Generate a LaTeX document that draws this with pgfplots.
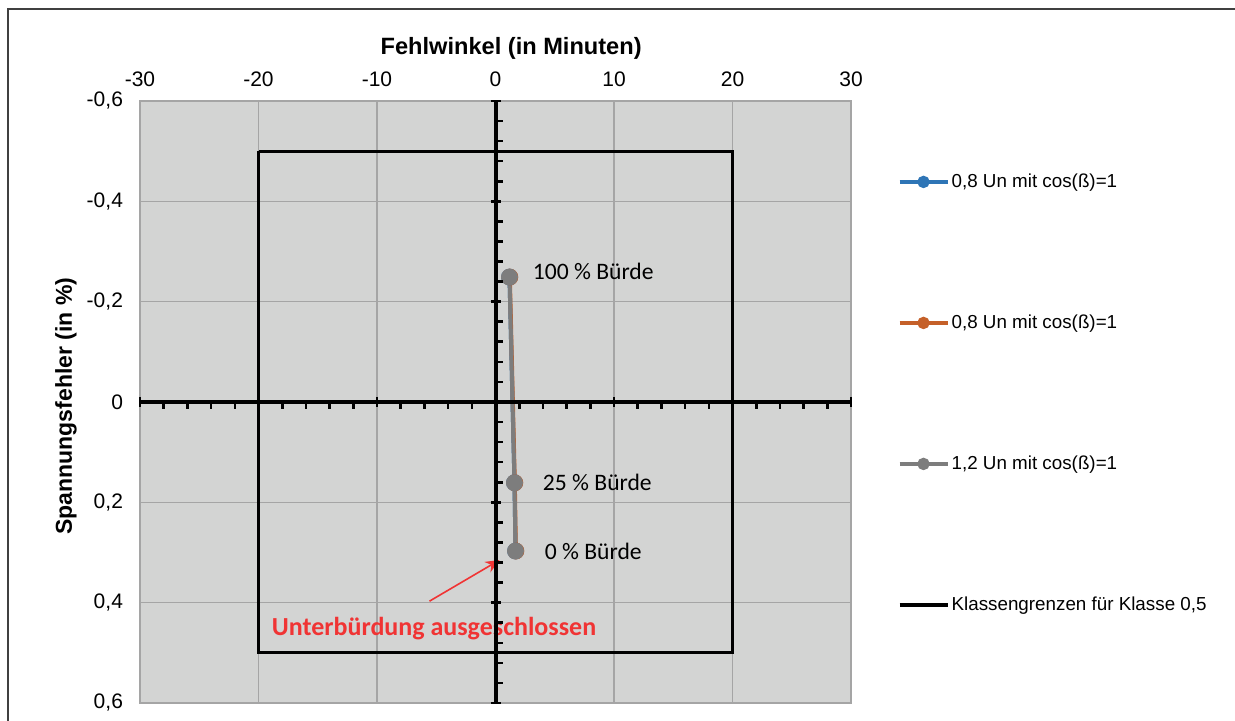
\documentclass[border=0pt]{standalone}
\usepackage{fontspec}
\setmainfont{Liberation Sans}
\newfontfamily\calibri{Carlito}
\usepackage{pgfplots}
\pgfplotsset{compat=1.18}
\usetikzlibrary{arrows.meta}

\definecolor{plotbg}{RGB}{211,212,211}
\definecolor{gridgray}{RGB}{165,165,165}
\definecolor{serblue}{RGB}{46,117,182}
\definecolor{serorange}{RGB}{197,96,41}
\definecolor{sergray}{RGB}{125,125,125}
\definecolor{annred}{RGB}{240,52,52}

\pgfplotsset{
  zeroaxes/.style={
    at={(70pt,9pt)}, anchor=south west,
    scale only axis, width=355.5pt, height=301pt,
    xmin=-30, xmax=30, ymin=-0.6, ymax=0.6,
    y dir=reverse,
    axis lines=middle,
    axis line style={black, line width=2pt, -},
    xtick={-30,-20,-10,0,10,20,30},
    ytick={-0.6,-0.4,-0.2,0,0.2,0.4,0.6},
    xticklabels={}, yticklabels={},
    tick style={black, line width=1.3pt},
  }
}

\begin{document}
\begin{tikzpicture}
\useasboundingbox (0,0) rectangle (617.5pt,360.5pt);
\draw[black!75, line width=0.6pt] (4pt,0) -- (4pt,356pt) -- (617.5pt,356pt);

% main axis: background, grid, labels, data
\begin{axis}[
  at={(70pt,9pt)}, anchor=south west,
  scale only axis, width=355.5pt, height=301pt,
  xmin=-30, xmax=30, ymin=-0.6, ymax=0.6,
  y dir=reverse,
  axis background/.style={fill=plotbg},
  axis line style={gridgray, line width=0.6pt},
  grid=major, grid style={gridgray, line width=0.6pt},
  major tick length=0pt,
  xtick={-30,-20,-10,0,10,20,30},
  ytick={-0.6,-0.4,-0.2,0,0.2,0.4,0.6},
  xticklabel pos=top,
  xticklabel style={font=\fontsize{10.5}{12}\selectfont, yshift=3.5pt},
  yticklabel style={font=\fontsize{10.5}{12}\selectfont, xshift=-5pt},
  /pgf/number format/.cd, use comma, fixed, precision=1, assume math mode=true,
  /pgfplots/.cd,
  xlabel={\bfseries Fehlwinkel (in Minuten)},
  xlabel style={at={(axis description cs:0.522,1.088)}, anchor=center, font=\fontsize{11.8}{13}\selectfont},
  ylabel={\bfseries Spannungsfehler (in \%)},
  ylabel style={at={(axis description cs:-0.104,0.493)}, anchor=center, rotate=0, font=\fontsize{11.5}{13}\selectfont},
  legend style={at={(axis description cs:1.0647,0.882)}, anchor=north west,
    draw=none, fill=none, inner sep=0pt, row sep=61pt, column sep=0pt,
    font=\fontsize{9.4}{11}\selectfont,
    nodes={inner sep=0pt, inner xsep=1pt, text height=7.3pt, text depth=2.2pt}},
  legend cell align=left,
  legend image code/.code={
    \draw[#1, line width=2.1pt, mark size=2pt, mark repeat=2, mark phase=2]
      plot coordinates {(0pt,0pt) (12pt,0pt) (24pt,0pt)};
  },
]
\addplot[serblue, line width=2pt, mark=*, mark size=3.2pt] coordinates {
  (1.69,0.297) (1.60,0.161) (1.18,-0.249)
};
\addlegendentry{0,8 Un mit cos(ß)=1}
\addplot[serorange, line width=2pt, mark=*, mark size=3.2pt] coordinates {
  (1.72,0.297) (1.63,0.161) (1.21,-0.249)
};
\addlegendentry{0,8 Un mit cos(ß)=1}
\addplot[sergray, line width=2pt, mark=*, mark size=3.2pt] coordinates {
  (1.69,0.297) (1.60,0.161) (1.18,-0.249)
};
\addlegendentry{1,2 Un mit cos(ß)=1}
\addplot[black, line width=1.5pt, mark=none] coordinates {
  (-20,-0.5) (20,-0.5) (20,0.5) (-20,0.5) (-20,-0.5)
};
\addlegendentry{Klassengrenzen für Klasse 0,5}

\node[anchor=west, inner sep=0pt, font=\calibri\fontsize{11.8}{13}\selectfont] at (axis cs:3.12,-0.261) {100 \% Bürde};
\node[anchor=west, inner sep=0pt, font=\calibri\fontsize{11.8}{13}\selectfont] at (axis cs:3.97,0.161) {25 \% Bürde};
\node[anchor=west, inner sep=0pt, font=\calibri\fontsize{11.8}{13}\selectfont] at (axis cs:4.13,0.297) {0 \% Bürde};
\node[anchor=west, inner sep=0pt, text=annred, font=\calibri\bfseries\fontsize{13}{15}\selectfont] at (axis cs:-18.9,0.452) {Unterbürdung ausgeschlossen};
\draw[annred, line width=0.8pt, -{Stealth[length=7pt,width=6pt]}] (axis cs:-5.57,0.397) -- (axis cs:0.34,0.315);
\end{axis}

% overlay: minor ticks on one side only
\begin{axis}[
  zeroaxes,
  minor x tick num=4, minor y tick num=4,
  tick align=inside,
  major tick length=0pt,
  minor tick length=3.5pt,
]
\end{axis}
% overlay: thick zero lines with centred major ticks
\begin{axis}[
  zeroaxes,
  tick align=center,
  major tick length=5pt,
]
\end{axis}
\end{tikzpicture}
\end{document}
